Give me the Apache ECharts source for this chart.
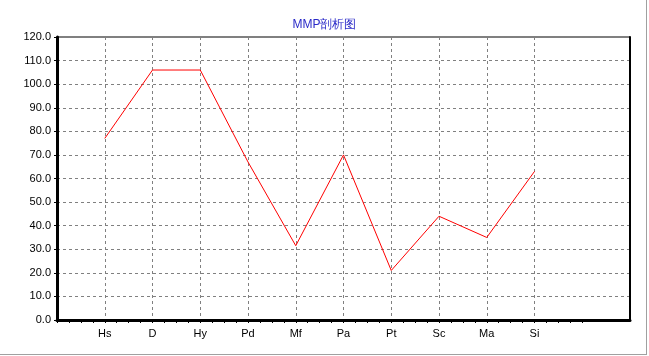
<!DOCTYPE html>
<html><head><meta charset="utf-8">
<script src="https://cdn.jsdelivr.net/npm/echarts@6/dist/echarts.min.js"></script>
<style>html,body{margin:0;padding:0;background:#fff}#c{width:649px;height:356px}</style>
</head><body><div id="c"></div>
<script>
var title = 'MMP剖析图';
var categories = ['Hs','D','Hy','Pd','Mf','Pa','Pt','Sc','Ma','Si'];
var values = [77, 106, 106, 67, 31.5, 70, 21, 44, 35, 63];
var yMin = 0, yMax = 120, yStep = 10;

// category slots: one empty slot before, two after (axis spans 0..12)
var slots = [''].concat(categories).concat(['', '']);
var seriesData = [null].concat(values).concat([null, null]);
var tickVals = [];
for (var i = 0; i <= 44; i++) tickVals.push(i / 4);

var chart = echarts.init(document.getElementById('c'), null, {renderer: 'canvas'});
var fontFam = 'Liberation Sans, Arial, sans-serif';
chart.setOption({
  animation: false,
  backgroundColor: '#fff',
  title: {
    text: title, left: 'center', top: 14,
    textStyle: {color: '#2a2ac8', fontSize: 12, fontWeight: 'normal', fontFamily: fontFam}
  },
  grid: {left: 57, right: 19, top: 37, bottom: 36, show: true, borderColor: '#000', borderWidth: 1, backgroundColor: '#fff'},
  xAxis: [{
    type: 'category', data: slots, boundaryGap: false,
    axisLine: {lineStyle: {color: '#000', width: 3}},
    axisTick: {show: false},
    axisLabel: {interval: 0, color: '#000', fontSize: 11, fontFamily: fontFam, margin: 8},
    splitLine: {show: true, interval: function (idx) { return idx >= 1 && idx <= categories.length; },
      lineStyle: {color: '#808080', type: [3, 3], width: 1}}
  }, {
    type: 'value', min: 0, max: slots.length - 1, position: 'bottom',
    axisLine: {show: false},
    axisLabel: {show: false},
    splitLine: {show: false},
    axisTick: {show: true, length: 3, inside: false, customValues: tickVals, lineStyle: {color: '#000', width: 1}}
  }],
  yAxis: [{
    type: 'value', min: yMin, max: yMax, interval: yStep,
    axisLine: {show: true, lineStyle: {color: '#000', width: 3}},
    axisTick: {show: true, length: 3, lineStyle: {color: '#000'}},
    axisLabel: {color: '#000', fontSize: 11, fontFamily: fontFam, margin: 6,
      formatter: function (v) { return v.toFixed(1); }},
    splitLine: {show: true, lineStyle: {color: '#808080', type: [3, 3], width: 1}}
  }, {
    type: 'value', min: yMin, max: yMax, position: 'right',
    axisLine: {show: true, lineStyle: {color: '#000', width: 2}},
    axisTick: {show: false}, axisLabel: {show: false}, splitLine: {show: false}
  }],
  graphic: [
    {type: 'rect', shape: {x: 0, y: 354, width: 647, height: 1}, style: {fill: '#a0a0a0'}, silent: true},
    {type: 'rect', shape: {x: 646, y: 0, width: 1, height: 355}, style: {fill: '#a0a0a0'}, silent: true}
  ],
  series: [{
    type: 'line', data: seriesData, xAxisIndex: 0, yAxisIndex: 0,
    showSymbol: false, symbol: 'none', connectNulls: false,
    lineStyle: {color: '#ff0000', width: 1}
  }]
});
</script></body></html>
